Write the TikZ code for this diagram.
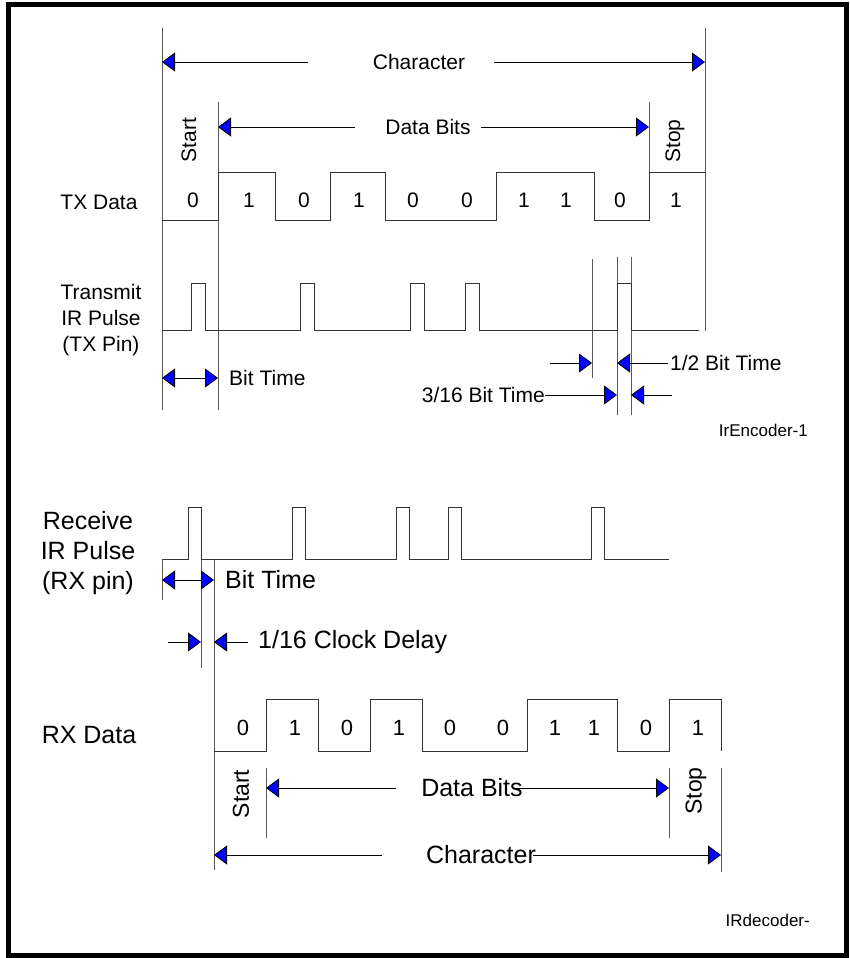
\documentclass[tikz,border=0pt]{standalone}
\usepackage{fontspec}
\setmainfont{Liberation Sans}
\usepackage{tikz}
\usetikzlibrary{arrows.meta,positioning,calc}
\tikzset{
  btip/.tip={Triangle[length=13pt,width=19pt,fill=blue]},
  dimA/.style={-{btip}, line width=0.8pt, black},
  dimLR/.style={{btip}-{btip}, line width=0.8pt, black},
  wave/.style={line width=1pt, black!80},
  guide/.style={line width=0.9pt, black!65},
  lblT/.style={font=\fontsize{21}{26}\selectfont, inner sep=0pt},
  lblR/.style={font=\fontsize{25}{30}\selectfont, inner sep=0pt},
  digR/.style={font=\fontsize{22}{26}\selectfont, inner sep=0pt},
  ssR/.style={font=\fontsize{23}{27}\selectfont, inner sep=0pt},
  tag/.style={font=\fontsize{17}{20}\selectfont, inner sep=0pt},
}

\begin{document}
\begin{tikzpicture}[x=1pt,y=-1pt]
\useasboundingbox (0,0) rectangle (849,958);
\draw[line width=5pt] (8,4.5) rectangle (846,955.5);

% transmit side
\coordinate (gA) at (162,28);
\coordinate (gB) at (218,102);
\coordinate (gC) at (649,102);
\coordinate (gD) at (705,28);
\coordinate (hA) at (592,259);
\coordinate (hB) at (617,257);
\coordinate (hC) at (631,257);
\draw[guide] (gA) -- (162,410);
\draw[guide] (gB) -- (218,410);
\draw[guide] (gC) -- (649,220);
\draw[guide] (gD) -- (705,331);
\draw[guide] (hA) -- (592,378);
\draw[guide] (hB) -- (617,415);
\draw[guide] (hC) -- (631,415);

\node[lblT] (chT) at (419,62) {Character};
\node[lblT] (dbT) at (428,127) {Data Bits};
\node[lblT, rotate=90] (stT) at (189,140) {Start};
\node[lblT, rotate=90] (spT) at (675,141) {Stop};
\node[lblT] (txd) at (99,202) {TX Data};
\node[lblT, align=center] (txp) at (101,320) {Transmit\\IR Pulse\\(TX Pin)};

\draw[dimA] ([xshift=-65pt]chT.west) -- (chT.west -| gA);
\draw[dimA] ([xshift=29pt]chT.east) -- (chT.east -| gD);
\draw[dimA] ([xshift=-30pt]dbT.west) -- (dbT.west -| gB);
\draw[dimA] ([xshift=10pt]dbT.east) -- (dbT.east -| gC);

\draw[wave] (162,220) -- (218,220) -- (218,172) -- (275,172) -- (275,220)
  -- (330,220) -- (330,172) -- (385,172) -- (385,220) -- (496,220) -- (496,172)
  -- (594,172) -- (594,220) -- (649,220) -- (649,172) -- (705,172);
\foreach \x/\b [count=\i] in {193/0,249/1,304/0,359/1,413/0,467/0,524/1,566/1,620/0,676/1}
  \node[lblT] (tb\i) at (\x,200) {\b};

\draw[wave] (162,330) foreach \a/\b in {191/205,300/314,410/424,465/479,617/631}
  { -- (\a,330) -- (\a,283) -- (\b,283) -- (\b,330) } -- (699,330);

\node[lblT, anchor=west] (btT) at (229,378) {Bit Time};
\draw[dimLR] (btT.west -| gA) -- (btT.west -| gB);
\node[lblT, anchor=west] (hbT) at (670,363) {1/2 Bit Time};
\draw[dimA] ([xshift=-2pt]hbT.west) -- (hbT.west -| hB);
\draw[dimA] ([xshift=-120pt]hbT.west) -- (hbT.west -| hA);
\node[lblT, anchor=east] (tsT) at (545,395) {3/16 Bit Time};
\draw[dimA] (tsT.east) -- (tsT.east -| hB);
\draw[dimA] ([xshift=127pt]tsT.east) -- (tsT.east -| hC);
\node[tag, anchor=east] (encT) at (808,430) {IrEncoder-1};

% receive side
\coordinate (rA) at (162,559);
\coordinate (rB) at (201,559);
\coordinate (rC) at (214,559);
\coordinate (rS) at (266,768);
\coordinate (rP) at (669,768);
\coordinate (rE) at (721,768);
\draw[guide] (rA) -- (162,600);
\draw[guide] (rB) -- (201,668);
\draw[guide] (rC) -- (214,870);
\draw[guide] (rS) -- (266,838);
\draw[guide] (rP) -- (669,838);
\draw[guide] (rE) -- (721,872);

\node[lblR, align=center] (rxp) at (88,553) {Receive\\IR Pulse\\(RX pin)};
\node[lblR] (rxd) at (89,735) {RX Data};

\draw[wave] (162,559) foreach \a/\b in {188/201,292/305,396/409,448/461,591/604}
  { -- (\a,559) -- (\a,507) -- (\b,507) -- (\b,559) } -- (669,559);

\node[lblR, anchor=west] (btR) at (225,580) {Bit Time};
\draw[dimLR] (btR.west -| rA) -- (btR.west -| rC);
\node[lblR, anchor=west] (cdR) at (258,642) {1/16 Clock Delay};
\draw[dimA] ([xshift=-10pt]cdR.west) -- (cdR.west -| rC);
\draw[dimA] ([xshift=-90pt]cdR.west) -- (cdR.west -| rB);

\draw[wave] (214,751) -- (266,751) -- (266,699) -- (318,699) -- (318,751)
  -- (370,751) -- (370,699) -- (422,699) -- (422,751) -- (527,751) -- (527,699)
  -- (617,699) -- (617,751) -- (669,751) -- (669,699) -- (721,699) -- (721,751);
\foreach \x/\b [count=\i] in {243/0,295/1,347/0,399/1,450/0,503/0,555/1,594/1,646/0,698/1}
  \node[digR] (rb\i) at (\x,728) {\b};

\node[lblR] (dbR) at (472,788) {Data Bits};
\node[ssR, rotate=90] (stR) at (241,794) {Start};
\node[ssR, rotate=90] (spR) at (696,791) {Stop};
\draw[dimA] ([xshift=-25pt]dbR.west) -- (dbR.west -| rS);
\draw[dimA] ([xshift=-7pt]dbR.east) -- (dbR.east -| rP);

\node[lblR] (chR) at (481,855) {Character};
\draw[dimA] ([xshift=-44pt]chR.west) -- (chR.west -| rC);
\draw[dimA] ([xshift=-3pt]chR.east) -- (chR.east -| rE);
\node[tag, anchor=east] (decR) at (810,920) {IRdecoder-};
\end{tikzpicture}
\end{document}
